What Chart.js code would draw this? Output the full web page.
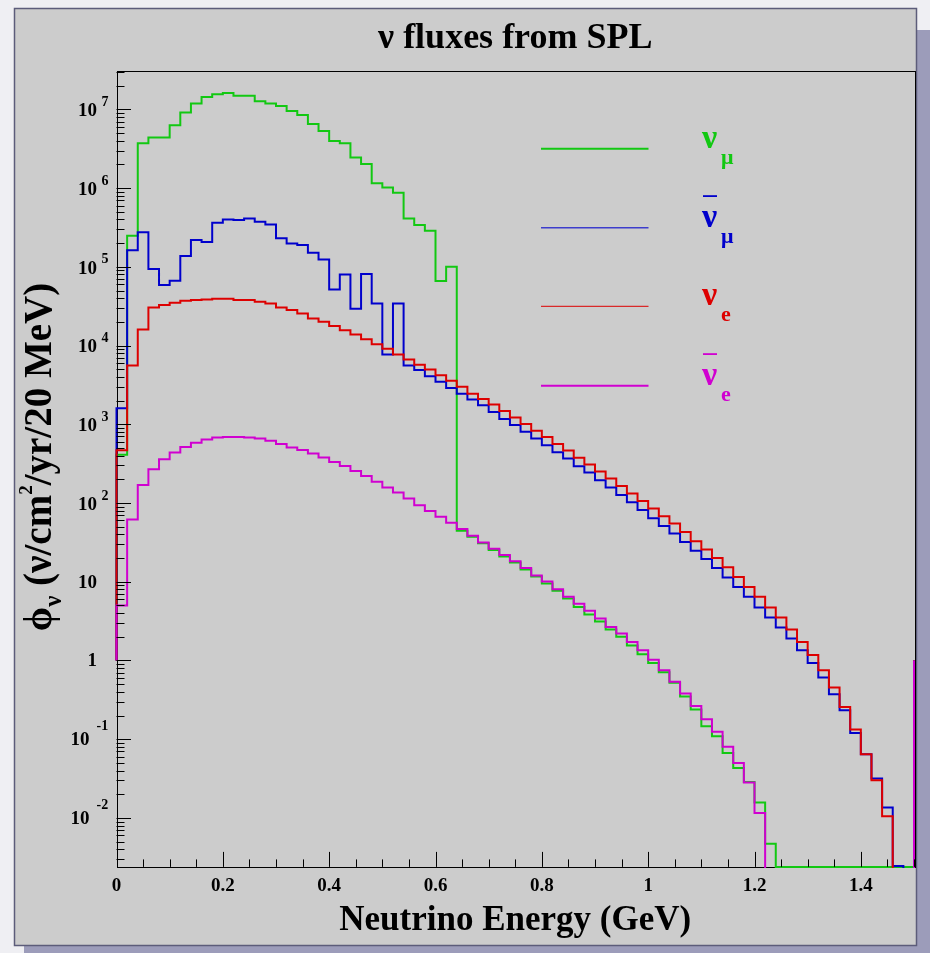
<!DOCTYPE html>
<html>
<head>
<meta charset="utf-8">
<title>ν fluxes from SPL</title>
<script src="https://cdn.jsdelivr.net/npm/chart.js@4.4.1/dist/chart.umd.min.js"></script>
<style>
  html, body { margin: 0; padding: 0; background: #ededf1; }
  #box { position: relative; width: 930px; height: 953px; }
</style>
</head>
<body>
<div id="box"><canvas id="chart" width="930" height="953"></canvas></div>
<script>
// ---------------- data (20 MeV bins, 0 - 1.5 GeV) ----------------
const binWidthGeV = 0.02;
const energyMin = 0;
const energyMax = 1.5;
const fluxMin = 0.00239;
const fluxMax = 3.07e7;
const histBaseline = 1;

const xTickValues = [0, 0.2, 0.4, 0.6, 0.8, 1.0, 1.2, 1.4];
const xTickLabels = ['0', '0.2', '0.4', '0.6', '0.8', '1', '1.2', '1.4'];
const yTickValues = [1e-2, 1e-1, 1, 10, 1e2, 1e3, 1e4, 1e5, 1e6, 1e7];
const yTickBases = ['10', '10', '1', '10', '10', '10', '10', '10', '10', '10'];
const yTickExponents = ['-2', '-1', '', '', '2', '3', '4', '5', '6', '7'];

const seriesSubscripts = ['μ', 'μ', 'e', 'e'];
const seriesIsAnti = [false, true, false, true];
const seriesColors = ['#12c812', '#0000cc', '#dd0000', '#d000d0'];

// nu_mu
const numuFlux = [
  4.1e2, 2.48e5, 3.7e6, 4.4e6, 4.4e6, 6.3e6, 9.1e6, 1.19e7, 1.43e7, 1.56e7,
  1.61e7, 1.49e7, 1.49e7, 1.27e7, 1.19e7, 1.10e7, 9.5e6, 8.45e6, 6.5e6, 5.3e6,
  3.95e6, 3.7e6, 2.45e6, 2.02e6, 1.15e6, 1.02e6, 8.7e5, 4.12e5, 3.39e5, 2.87e5,
  6.6e4, 1.0e5, 44.3, 37.2, 30.9, 25.4, 20.9, 17.6, 14.3, 11.7,
  9.5, 7.66, 6.12, 4.79, 3.84, 3.13, 2.47, 2.0, 1.55, 1.2,
  0.93, 0.71, 0.52, 0.35, 0.238, 0.146, 0.109, 0.067, 0.043, 0.0287,
  0.0157, 0.0047, 0.00239, 0.00239, 0.00239, 0.00239, 0.00239, 0.00239, 0.00239, 0.00239,
  0.00239, 0.00239, 0.00239, 0.00239, 0.00239
];
// anti nu_mu
const numubarFlux = [
  1.6e3, 1.62e5, 2.74e5, 9.35e4, 5.86e4, 6.64e4, 1.37e5, 2.19e5, 2.06e5, 3.63e5,
  4.0e5, 3.93e5, 4.12e5, 3.73e5, 3.46e5, 2.30e5, 1.98e5, 1.89e5, 1.51e5, 1.24e5,
  5.16e4, 8.0e4, 2.93e4, 8.1e4, 3.43e4, 7.7e3, 3.43e4, 5.6e3, 4.88e3, 4.09e3,
  3.47e3, 2.9e3, 2.45e3, 2.07e3, 1.74e3, 1.43e3, 1.17e3, 977, 802, 661,
  543, 443, 368, 294, 244, 195, 157, 126, 102, 81.3,
  64, 51, 41, 32.1, 24.7, 19.4, 15.0, 11.3, 8.6, 6.43,
  4.71, 3.52, 2.62, 1.9, 1.35, 0.93, 0.607, 0.372, 0.233, 0.12,
  0.0646, 0.0316, 0.0136, 0.00245, 0
];
// nu_e
const nueFlux = [
  469, 5.6e3, 1.6e4, 3.05e4, 3.27e4, 3.49e4, 3.7e4, 3.8e4, 3.85e4, 3.93e4,
  3.93e4, 3.8e4, 3.78e4, 3.6e4, 3.43e4, 3.05e4, 2.82e4, 2.56e4, 2.21e4, 2.0e4,
  1.77e4, 1.57e4, 1.38e4, 1.2e4, 1.04e4, 9.1e3, 7.7e3, 6.67e3, 5.7e3, 4.98e3,
  4.21e3, 3.56e3, 2.99e3, 2.45e3, 2.1e3, 1.78e3, 1.48e3, 1.22e3, 1.01e3, 826,
  692, 560, 466, 375, 309, 251, 205, 165, 132, 106,
  85, 68, 55, 43, 32.7, 25.7, 20.1, 15.3, 11.5, 8.6,
  6.43, 4.71, 3.52, 2.48, 1.72, 1.17, 0.75, 0.454, 0.257, 0.133,
  0.0646, 0.0301, 0.0105, 0, 0
];
// anti nu_e
const nuebarFlux = [
  5.0, 61.8, 169, 269, 361, 439, 516, 581, 641, 681,
  692, 692, 681, 661, 617, 560, 508, 470, 427, 379,
  333, 296, 256, 221, 186, 157, 136, 114, 94, 79.4,
  66.7, 56, 46.8, 38.3, 31.6, 26.3, 21.8, 18.2, 14.9, 12.0,
  10.1, 8.05, 6.43, 5.25, 4.27, 3.41, 2.67, 2.2, 1.72, 1.35,
  1.02, 0.75, 0.537, 0.38, 0.264, 0.179, 0.124, 0.0805, 0.05, 0.0283,
  0.0116, 0, 0, 0, 0, 0, 0, 0, 0, 0,
  0, 0, 0, 0, 0
];

// ---------------- helpers ----------------
const SERIF = "'Liberation Serif', 'Times New Roman', serif";
const OFF_SCALE = 1e-6; // empty bins fall below the visible axis range

function histogramOutline(values) {
  const pts = [{ x: energyMin, y: histBaseline }];
  values.forEach((v, i) => pts.push({ x: energyMin + i * binWidthGeV, y: v > 0 ? v : OFF_SCALE }));
  const last = values[values.length - 1];
  pts.push({ x: energyMax, y: last > 0 ? last : OFF_SCALE });
  pts.push({ x: energyMax, y: histBaseline });
  return pts;
}

function makeDataset(label, values, idx) {
  return {
    label: label,
    data: histogramOutline(values),
    borderColor: seriesColors[idx],
    borderWidth: 2,
    stepped: true,
    pointRadius: 0,
    fill: false,
    tension: 0,
    borderJoinStyle: 'miter',
    borderCapStyle: 'butt',
    clip: { left: 2, top: 1, right: 2, bottom: 1 },
    order: 3 - idx
  };
}

const rootStyle = {
  id: 'rootStyle',
  beforeDraw(chart) {
    const ctx = chart.ctx;
    ctx.save();
    ctx.fillStyle = '#efeff3';
    ctx.fillRect(0, 0, chart.width, chart.height);
    ctx.fillStyle = '#9c9cba';
    ctx.fillRect(24, 30, chart.width - 24, chart.height - 30);
    ctx.fillStyle = '#cccccc';
    ctx.fillRect(14, 8, 903, 938);
    ctx.strokeStyle = '#5c5c7a';
    ctx.lineWidth = 1.5;
    ctx.strokeRect(14.5, 8.5, 902, 937);
    ctx.restore();
  },
  beforeDatasetsDraw(chart) {
    const ctx = chart.ctx, a = chart.chartArea;
    ctx.save();
    ctx.strokeStyle = '#000';
    ctx.lineWidth = 1;
    ctx.strokeRect(Math.round(a.left) + 0.5, Math.round(a.top) + 0.5,
                   Math.round(a.right - a.left), Math.round(a.bottom - a.top));
    ctx.restore();
  },
  afterDatasetsDraw(chart) {
    const ctx = chart.ctx, a = chart.chartArea;
    const xs = chart.scales.x, ys = chart.scales.y;
    ctx.save();
    ctx.strokeStyle = '#000';
    ctx.lineWidth = 1;
    // x ticks (inward)
    ctx.beginPath();
    for (let k = 0; k * 0.05 <= energyMax + 1e-9; k++) {
      const v = k * 0.05;
      const px = Math.round(xs.getPixelForValue(v)) + 0.5;
      const len = (k % 4 === 0) ? 15 : 7.5;
      ctx.moveTo(px, a.bottom);
      ctx.lineTo(px, a.bottom - len);
    }
    // y ticks (inward, log)
    for (let d = -3; d <= 7; d++) {
      for (let m = 1; m <= 9; m++) {
        const v = m * Math.pow(10, d);
        if (v < fluxMin || v > fluxMax) continue;
        const py = Math.round(ys.getPixelForValue(v)) + 0.5;
        const len = (m === 1) ? 14.5 : 8;
        ctx.moveTo(a.left, py);
        ctx.lineTo(a.left + len, py);
      }
    }
    ctx.stroke();

    // y tick labels
    ctx.fillStyle = '#000';
    ctx.textBaseline = 'middle';
    yTickValues.forEach((v, i) => {
      const py = ys.getPixelForValue(v);
      const base = yTickBases[i], exp = yTickExponents[i];
      const neg = exp.startsWith('-');
      ctx.font = 'bold 19px ' + SERIF;
      ctx.textAlign = 'right';
      ctx.fillText(base, exp ? (neg ? 89.5 : 97) : 97, py + (exp && !neg ? 2 : 1));
      if (exp) {
        ctx.font = 'bold 14px ' + SERIF;
        ctx.textAlign = 'left';
        ctx.fillText(exp, neg ? 96.5 : 101.5, py - (neg ? 13 : 7));
      }
    });

    // y axis title (rotated)
    const big = 'bold 39px ' + SERIF, sub = 'bold 25px ' + SERIF, sup = 'bold 19px ' + SERIF;
    const parts = [
      { t: 'ϕ', f: big, dy: 0 },
      { t: 'ν', f: sub, dy: 10 },
      { t: ' (ν/cm', f: big, dy: 0 },
      { t: '2', f: sup, dy: -19 },
      { t: '/yr/20 MeV)', f: big, dy: 0 }
    ];
    let total = 0;
    parts.forEach(p => { ctx.font = p.f; p.w = ctx.measureText(p.t).width; total += p.w; });
    ctx.translate(40, 457);
    ctx.rotate(-Math.PI / 2);
    ctx.textAlign = 'left';
    ctx.textBaseline = 'alphabetic';
    let cx = -total / 2;
    parts.forEach(p => { ctx.font = p.f; ctx.fillText(p.t, cx, 11 + p.dy); cx += p.w; });
    ctx.setTransform(1, 0, 0, 1, 0, 0);

    // legend
    const rowY = [148.7, 227.7, 306.3, 385.7];
    const legendWidths = [2, 1.5, 1, 2];
    chart.data.datasets.forEach((ds, i) => {
      const y = rowY[i];
      ctx.strokeStyle = ds.borderColor;
      ctx.globalAlpha = i === 1 ? 0.7 : 1;
      ctx.lineWidth = legendWidths[i];
      ctx.beginPath();
      ctx.moveTo(541, y);
      ctx.lineTo(648.5, y);
      ctx.stroke();
      ctx.globalAlpha = 1;
      ctx.fillStyle = ds.borderColor;
      ctx.textAlign = 'left';
      ctx.textBaseline = 'alphabetic';
      ctx.font = 'bold 34px ' + SERIF;
      ctx.fillText('ν', 702, y - 1);
      ctx.font = 'bold 22px ' + SERIF;
      ctx.fillText(seriesSubscripts[i], 721, y + 15);
      if (seriesIsAnti[i]) {
        ctx.fillRect(703, y - 32.5, 14, 1.8);
      }
    });
    ctx.restore();
  }
};

new Chart(document.getElementById('chart'), {
  type: 'line',
  data: {
    datasets: [
      makeDataset('ν_μ', numuFlux, 0),
      makeDataset('anti-ν_μ', numubarFlux, 1),
      makeDataset('ν_e', nueFlux, 2),
      makeDataset('anti-ν_e', nuebarFlux, 3)
    ]
  },
  options: {
    responsive: false,
    animation: false,
    events: [],
    layout: { padding: { left: 116.5, right: 16, top: 0, bottom: 9 } },
    plugins: {
      legend: { display: false },
      tooltip: { enabled: false },
      title: {
        display: true,
        text: 'ν fluxes from SPL',
        color: '#000',
        font: { family: SERIF, size: 36, weight: 'bold' },
        padding: { top: 17.4, bottom: 10.4 }
      }
    },
    scales: {
      x: {
        type: 'linear',
        min: energyMin,
        max: energyMax,
        position: 'bottom',
        afterBuildTicks: (scale) => { scale.ticks = xTickValues.map(v => ({ value: v })); },
        ticks: {
          callback: (v, i) => xTickLabels[i],
          font: { family: SERIF, size: 19, weight: 'bold' },
          color: '#000',
          padding: 8,
          maxRotation: 0,
          autoSkip: false
        },
        grid: { display: false, drawTicks: false },
        border: { display: false },
        title: {
          display: true,
          text: 'Neutrino Energy (GeV)',
          color: '#000',
          font: { family: SERIF, size: 35, weight: 'bold' },
          padding: { top: -5.7, bottom: 2 }
        }
      },
      y: {
        type: 'logarithmic',
        min: fluxMin,
        max: fluxMax,
        display: false
      }
    }
  },
  plugins: [rootStyle]
});
</script>
</body>
</html>
